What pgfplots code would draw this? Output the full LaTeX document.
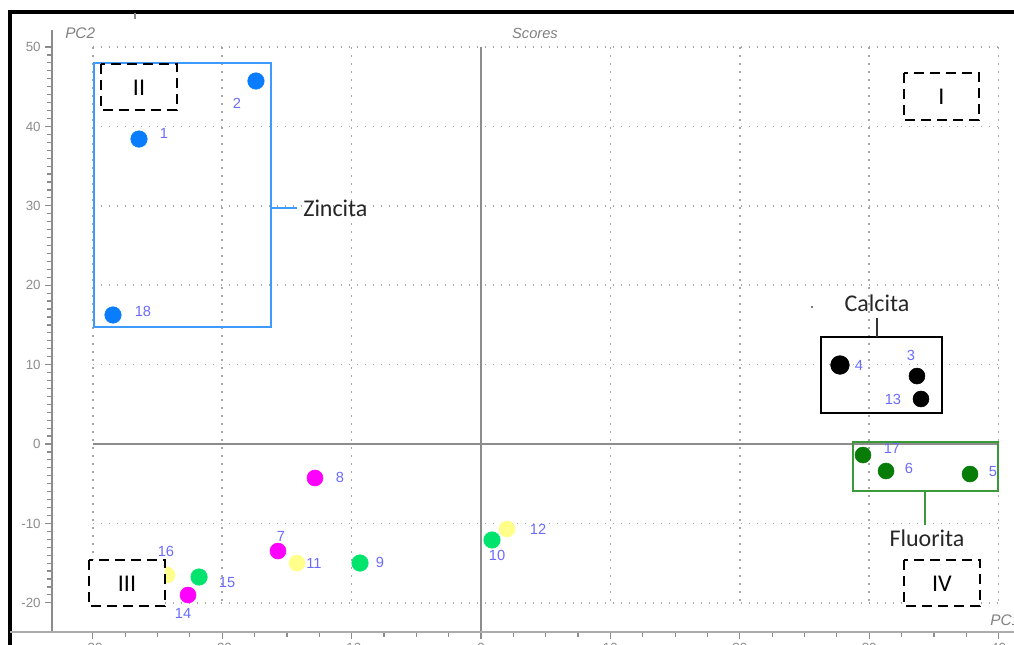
\documentclass[border=0pt]{standalone}
\usepackage{pgfplots}
\pgfplotsset{compat=1.18}
\usepackage{fontspec}
\setmainfont{Liberation Sans}
\newfontfamily\calibri{Carlito}
\definecolor{zblue}{HTML}{0A7DFF}
\definecolor{zbox}{HTML}{3D9BFF}
\definecolor{lblue}{HTML}{6B6BFF}
\definecolor{dgreen}{HTML}{077D07}
\definecolor{fbox}{HTML}{3A9A3A}
\definecolor{lgreen}{HTML}{00E46E}
\definecolor{yell}{HTML}{FFFF8A}
\definecolor{magen}{HTML}{FF00FF}
\definecolor{axgray}{HTML}{8C8C8C}
\definecolor{gridgray}{HTML}{A6A6A6}

\pgfplotstableread{
x y lab dx dy
-26.43 38.41 1 25 6
-17.39 45.72 2 -19 -22
-28.44 16.25 18 30 4
}\zincita
\pgfplotstableread{
x y lab dx dy
33.69 8.56 3 -6 21
34.00 5.67 13 -28 0
}\calcita
\pgfplotstableread{
x y lab dx dy
27.74 9.95 4 19 0
}\calcitab
\pgfplotstableread{
x y lab dx dy
29.52 -1.39 17 29 7
31.30 -3.40 6 23 3
37.79 -3.78 5 23 2
}\fluorita
\pgfplotstableread{
x y lab dx dy
-12.83 -4.28 8 25 1
-15.69 -13.48 7 3 15
-22.64 -19.02 14 -5 -18
}\magenta
\pgfplotstableread{
x y lab dx dy
-14.22 -14.99 11 17 0
-24.27 -16.50 16 -1 24
2.01 -10.71 12 31 0
}\yellow
\pgfplotstableread{
x y lab dx dy
-9.35 -14.99 9 20 1
-21.79 -16.75 15 28 -6
0.85 -12.09 10 5 -15
}\lgreen

\begin{document}
\begin{tikzpicture}
% grid (pixel coordinates of the reference)
\begin{scope}[x=0.75pt,y=-0.75pt]
 \foreach \gx in {92.7,222.1,351.6,610.4,739.8,869.2,998.6}
   \draw[gridgray, line width=1.3pt, dash pattern=on 1.3pt off 4.7pt] (\gx,47) -- (\gx,603);
 \foreach \gy in {47,126.4,205.8,285.2,364.6,523.4,602.8}
   \draw[gridgray, line width=1.3pt, dash pattern=on 1.3pt off 4.7pt] (92.7,\gy) -- (998.6,\gy);
 \draw[axgray, line width=1.3pt] (92.7,444) -- (998.6,444);
 \draw[axgray, line width=1.3pt] (481,47) -- (481,632);
\end{scope}

\begin{axis}[
  at={(39pt,-474pt)}, anchor=south west,
  scale only axis, width=721.5pt, height=451.5pt,
  xmin=-33.153, xmax=41.190, ymin=-23.678, ymax=52.141,
  axis x line=bottom, axis y line=left,
  axis line style={-, axgray, line width=1.5pt},
  x axis line style={line width=2.2pt, color=gray!65},
  xtick={-30,-20,...,40}, ytick={-20,-10,...,50},
  minor x tick num=3, minor y tick num=9,
  tick align=outside, major tick length=5pt, minor tick length=3.4pt,
  tick style={axgray, line width=0.9pt},
  tick label style={font=\fontsize{10}{11}\selectfont, text=axgray},
  /pgf/number format/assume math mode=true,
  clip=false,
  nodes near coords, point meta=explicit symbolic,
  visualization depends on={\thisrow{dx} \as \dx},
  visualization depends on={\thisrow{dy} \as \dy},
  nodes near coords style={anchor=center, xshift=\dx*0.75pt, yshift=\dy*0.75pt,
     font=\fontsize{11}{12}\selectfont, text=lblue},
]
\addplot[only marks, mark=*, mark size=6.2pt, mark options={draw=zblue, fill=zblue}]
  table[x=x, y=y, meta=lab] {\zincita};
\addplot[only marks, mark=*, mark size=6pt, mark options={draw=black, fill=black}]
  table[x=x, y=y, meta=lab] {\calcita};
\addplot[only marks, mark=*, mark size=7pt, mark options={draw=black, fill=black}]
  table[x=x, y=y, meta=lab] {\calcitab};
\addplot[only marks, mark=*, mark size=6pt, mark options={draw=dgreen, fill=dgreen}]
  table[x=x, y=y, meta=lab] {\fluorita};
\addplot[only marks, mark=*, mark size=6pt, mark options={draw=magen, fill=magen}]
  table[x=x, y=y, meta=lab] {\magenta};
\addplot[only marks, mark=*, mark size=6pt, mark options={draw=yell, fill=yell}]
  table[x=x, y=y, meta=lab] {\yellow};
\addplot[only marks, mark=*, mark size=6.2pt, mark options={draw=lgreen, fill=lgreen}]
  table[x=x, y=y, meta=lab] {\lgreen};
\end{axis}

% annotations (pixel coordinates of the reference)
\begin{scope}[x=0.75pt,y=-0.75pt]
 % outer frame
 \draw[black, line width=2.3pt] (10,650) -- (10,12) -- (1020,12);
 \draw[axgray, line width=1pt] (135,13) -- (135,19);
 \draw[gray!65, line width=2.2pt] (10,632) -- (1020,632);
 % axis titles
 \node[font=\itshape\fontsize{11.5}{13}\selectfont, text=gray, anchor=west, inner sep=0] at (65,33) {PC2};
 \node[font=\itshape\fontsize{11}{13}\selectfont, text=gray, inner sep=0] at (535,33) {Scores};
 \node[font=\itshape\fontsize{11.5}{13}\selectfont, text=gray, anchor=west, inner sep=0] at (990,620) {PC1};
 % Zincita
 \draw[zbox, line width=1.7pt] (94,63) rectangle (271,327);
 \draw[zbox, line width=1.7pt] (271,208) -- (297,208);
 \node[font=\calibri\fontsize{18}{20}\selectfont, text=black!85, anchor=west, inner sep=0] at (303,208) {Zincita};
 % Calcita
 \draw[black, line width=1.7pt] (821,337) rectangle (942,413);
 \draw[black!80, line width=1.7pt] (877,337) -- (877,318);
 \node[font=\calibri\fontsize{18}{20}\selectfont, text=black!85, inner sep=0] at (877,303) {Calcita};
 \fill[black!70] (812,307) circle (1.2);
 % Fluorita
 \draw[fbox, line width=1.7pt] (853,442) rectangle (998,491);
 \draw[fbox, line width=1.7pt] (925,491) -- (925,525);
 \node[font=\calibri\fontsize{18}{20}\selectfont, text=black!85, inner sep=0] at (927,538) {Fluorita};
 % quadrant boxes
 \tikzset{qbox/.style={draw=black, fill=white, line width=2.2pt, dash pattern=on 7.5pt off 4.5pt}}
 \draw[qbox] (101,64) rectangle (177,110);
 \node[font=\calibri\fontsize{18}{20}\selectfont, inner sep=0] at (139,88) {II};
 \draw[qbox] (904,73) rectangle (979,120);
 \node[font=\calibri\fontsize{18}{20}\selectfont, inner sep=0] at (941.5,97) {I};
 \draw[qbox] (89,560) rectangle (165,606);
 \node[font=\calibri\fontsize{18}{20}\selectfont, inner sep=0] at (127,584) {III};
 \draw[qbox] (904,560) rectangle (980,606);
 \node[font=\calibri\fontsize{18}{20}\selectfont, inner sep=0] at (942,584) {IV};
\end{scope}

\pgfresetboundingbox
\path[use as bounding box] (0,0) rectangle (760.5pt,-483pt);
\end{tikzpicture}
\end{document}
